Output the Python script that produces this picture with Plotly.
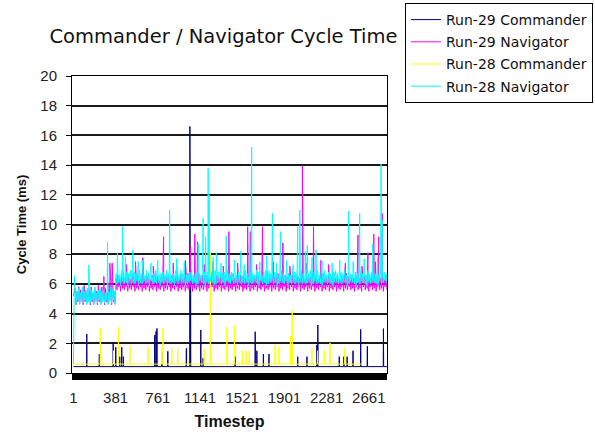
import numpy as np
import plotly.graph_objects as go

# ---------------- data ----------------
tick_vals = [1, 381, 761, 1141, 1521, 1901, 2281, 2661]
tick_text = ["1", "381", "761", "1141", "1521", "1901", "2281", "2661"]

# navigator samples: "pre" segment spans timesteps 1..377, "post" segment spans 385..2824
pre_span = (1, 377)
post_span = (385, 2824)

# Run-28 Navigator (cyan)
nav28_pre = [
    0.6, 6.55,
    5.6, 4.7, 5.5, 4.9, 5.7, 4.6, 5.4, 4.8, 5.8, 4.7,
    5.5, 4.9, 5.6, 4.6, 5.7, 4.8, 5.4, 4.7, 5.6, 4.9,
    5.5, 4.6, 5.8, 4.8, 5.4, 4.7, 5.6, 4.9, 5.7, 4.6,
    5.5, 4.8, 5.6, 4.7, 5.4, 4.9, 5.7, 4.6, 5.5, 4.8,
    5.8, 4.7, 5.6, 4.9, 5.5, 4.6,
]
nav28_post = [
    6.7, 6.0, 6.8, 6.1, 6.6, 5.9, 6.9, 6.2, 6.7, 6.0,
    6.6, 6.1, 6.8, 5.9, 6.7, 6.2, 6.9, 6.0, 6.6, 6.1,
    6.8, 6.0, 6.7, 6.2, 6.6, 5.9, 6.9, 6.1, 6.7, 6.0,
    6.8, 6.2, 6.6, 6.0, 6.9, 6.1, 6.7, 5.9, 6.8, 6.2,
    6.6, 6.0, 6.7, 6.1, 6.9, 6.0, 6.8, 6.2, 6.6, 5.9,
    6.7, 6.1, 6.8, 6.0, 6.6, 6.2, 6.9, 5.9, 6.7, 6.1,
    6.8, 6.0, 6.6, 6.1, 6.7, 5.9, 6.9, 6.2, 6.8, 6.0,
    6.6, 6.2, 6.9, 6.0, 6.7, 6.1, 6.8, 5.9, 6.6, 6.0,
    6.7, 6.1, 6.8, 6.2, 6.9, 6.0, 6.6, 6.1, 6.7, 5.9,
    6.8, 6.0, 6.7, 6.2, 6.6, 6.1, 6.9, 6.0, 6.8, 5.9,
    6.6, 6.1, 6.9, 6.0, 6.7, 6.2, 6.8, 6.1, 6.6, 5.9,
    6.9, 6.0, 6.7, 6.1, 6.8, 6.2, 6.6, 6.0, 6.7, 6.1,
    6.8, 5.9, 6.6, 6.2, 6.9, 6.1, 6.7, 6.0, 6.8, 6.2,
    6.7, 6.0, 6.9, 6.1, 6.6, 5.9, 6.8, 6.2, 6.7, 6.0,
    6.6, 6.1, 6.8, 6.0, 6.9, 6.2, 6.7, 5.9, 6.6, 6.1,
    6.8, 6.0, 6.7, 6.1, 6.6, 6.2, 6.9, 6.0, 6.8, 5.9,
    6.7, 6.2, 6.6, 6.0, 6.8, 6.1, 6.9, 5.9, 6.7, 6.0,
    6.9, 6.1, 6.7, 6.2, 6.6, 6.0, 6.8, 6.1, 6.7, 5.9,
    6.6, 6.0, 6.8, 6.2, 6.9, 6.1, 6.7, 6.0, 6.6, 6.2,
    6.8, 5.9, 6.7, 6.1, 6.6, 6.0, 6.9, 6.2, 6.8, 6.0,
    6.7, 6.1, 6.6, 5.9, 6.8, 6.2, 6.9, 6.0, 6.7, 6.1,
    6.6, 6.0, 6.8, 6.1, 6.7, 6.2, 6.9, 5.9, 6.6, 6.0,
    6.8, 6.2, 6.7, 6.0, 6.9, 6.1, 6.6, 6.0, 6.8, 5.9,
    6.7, 6.1, 6.9, 6.2, 6.6, 6.0, 6.8, 6.1, 6.7, 6.0,
    6.6, 5.9, 6.8, 6.1, 6.9, 6.2, 6.7, 6.0, 6.6, 6.1,
    6.8, 6.0, 6.7, 6.2, 6.9, 6.1, 6.6, 5.9, 6.8, 6.0,
    6.7, 6.2, 6.6, 6.1, 6.9, 6.0, 6.8, 5.9, 6.7, 6.1,
    6.6, 6.0, 6.9, 6.2, 6.7, 6.1, 6.8, 6.0, 6.6, 5.9,
    6.9, 6.1, 6.7, 6.0, 6.8, 6.2, 6.6, 6.1, 6.7, 6.0,
    6.8, 5.9, 6.6, 6.2, 6.9, 6.0, 6.7, 6.1, 6.8, 6.2,
    6.7, 6.0,
]

# Run-29 Navigator (magenta)
nav29_pre = [
    5.2, 5.5,
    5.7, 4.6, 5.5, 4.8, 5.8, 4.7, 5.6, 4.9, 5.4, 4.6,
    5.9, 4.8, 5.5, 4.7, 5.7, 4.9, 5.6, 4.6, 5.8, 4.8,
    5.4, 4.7, 5.7, 4.9, 5.5, 4.6, 5.9, 4.8, 5.6, 4.7,
    5.8, 4.9, 5.5, 4.6, 5.7, 4.8, 5.4, 4.7, 6.0, 4.9,
    5.6, 4.6, 5.8, 4.8, 5.5, 4.7,
]
nav29_post = [
    6.4, 5.6, 6.6, 5.8, 6.3, 5.5, 6.5, 5.7, 6.7, 5.6,
    6.4, 5.8, 6.5, 5.5, 6.6, 5.7, 6.3, 5.6, 6.7, 5.8,
    6.5, 5.5, 6.4, 5.7, 6.6, 5.6, 6.3, 5.8, 6.5, 5.5,
    6.7, 5.7, 6.4, 5.6, 6.6, 5.8, 6.5, 5.5, 6.3, 5.7,
    6.6, 5.6, 6.4, 5.8, 6.7, 5.5, 6.5, 5.7, 6.3, 5.6,
    6.5, 5.8, 6.6, 5.5, 6.4, 5.7, 6.7, 5.6, 6.5, 5.8,
    6.3, 5.5, 6.6, 5.7, 6.4, 5.6, 6.5, 5.8, 6.7, 5.5,
    6.4, 5.7, 6.6, 5.6, 6.3, 5.8, 6.5, 5.5, 6.6, 5.7,
    6.7, 5.6, 6.4, 5.8, 6.5, 5.5, 6.3, 5.7, 6.6, 5.6,
    6.5, 5.8, 6.7, 5.5, 6.4, 5.7, 6.6, 5.6, 6.3, 5.8,
    6.6, 5.5, 6.5, 5.7, 6.4, 5.6, 6.7, 5.8, 6.5, 5.5,
    6.3, 5.7, 6.6, 5.6, 6.4, 5.8, 6.5, 5.5, 6.7, 5.7,
    6.4, 5.6, 6.6, 5.8, 6.3, 5.5, 6.5, 5.7, 6.6, 5.6,
    6.7, 5.8, 6.4, 5.5, 6.5, 5.7, 6.3, 5.6, 6.6, 5.8,
    6.5, 5.5, 6.7, 5.7, 6.4, 5.6, 6.6, 5.8, 6.3, 5.5,
    6.6, 5.7, 6.5, 5.6, 6.4, 5.8, 6.7, 5.5, 6.5, 5.7,
    6.3, 5.6, 6.6, 5.8, 6.4, 5.5, 6.5, 5.7, 6.7, 5.6,
    6.4, 5.8, 6.6, 5.5, 6.3, 5.7, 6.5, 5.6, 6.6, 5.8,
    6.7, 5.5, 6.4, 5.7, 6.5, 5.6, 6.3, 5.8, 6.6, 5.5,
    6.5, 5.7, 6.7, 5.6, 6.4, 5.8, 6.6, 5.5, 6.3, 5.7,
    6.6, 5.6, 6.5, 5.8, 6.4, 5.5, 6.7, 5.7, 6.5, 5.6,
    6.3, 5.8, 6.6, 5.5, 6.4, 5.7, 6.5, 5.6, 6.7, 5.8,
    6.4, 5.5, 6.6, 5.7, 6.3, 5.6, 6.5, 5.8, 6.6, 5.5,
    6.7, 5.7, 6.4, 5.6, 6.5, 5.8, 6.3, 5.5, 6.6, 5.7,
    6.5, 5.6, 6.7, 5.8, 6.4, 5.5, 6.6, 5.7, 6.3, 5.6,
    6.6, 5.8, 6.5, 5.5, 6.4, 5.7, 6.7, 5.6, 6.5, 5.8,
    6.3, 5.6, 6.6, 5.7, 6.4, 5.5, 6.5, 5.8, 6.7, 5.6,
    6.4, 5.7, 6.6, 5.5, 6.3, 5.8, 6.5, 5.6, 6.6, 5.7,
    6.7, 5.5, 6.4, 5.8, 6.5, 5.6, 6.3, 5.7, 6.6, 5.5,
    6.5, 5.8, 6.7, 5.6, 6.4, 5.7, 6.6, 5.5, 6.3, 5.8,
    6.6, 5.6,
]

nav28_spike_t = [139, 308, 397, 442, 470, 537, 585, 620, 700, 760, 867, 930, 1000, 1125, 1169, 1192,
                 1214, 1223, 1260, 1288, 1330, 1377, 1450, 1510, 1540, 1588, 1606, 1680, 1740, 1793,
                 1830, 1867, 1920, 1980, 2021, 2039, 2089, 2107, 2150, 2185, 2240, 2330, 2400, 2478,
                 2520, 2579, 2620, 2697, 2740, 2772, 2781]
nav28_spike_v = [7.27, 8.84, 8.1, 9.85, 7.8, 8.28, 7.5, 7.6, 7.4, 7.6, 10.98, 7.7, 7.5, 8.7, 10.42, 9.18,
                 13.78, 11.99, 7.8, 8.1, 7.4, 9.25, 7.6, 8.2, 7.3, 8.7, 15.2, 7.5, 7.9, 10.75,
                 7.4, 9.52, 7.6, 7.3, 9.85, 10.98, 8.2, 8.6, 7.8, 8.3, 7.5, 7.4, 7.6, 10.9,
                 7.5, 10.75, 7.7, 8.7, 7.8, 14.07, 10.3]

nav29_spike_t = [275, 329, 350, 480, 560, 626, 720, 813, 900, 1010, 1056, 1094, 1119, 1180, 1260,
                 1350, 1401, 1480, 1570, 1593, 1650, 1704, 1800, 1887, 1950, 2063, 2100, 2163,
                 2230, 2300, 2450, 2564, 2600, 2653, 2706, 2720, 2751, 2781]
nav29_spike_v = [6.5, 7.39, 7.4, 7.3, 7.5, 7.76, 7.2, 9.18, 7.4, 7.6, 8.5, 9.36, 8.84, 7.3, 7.5,
                 7.2, 9.52, 7.4, 9.85, 9.52, 7.3, 9.85, 7.5, 8.77, 7.2, 13.94, 7.4, 9.85,
                 7.6, 7.3, 7.4, 9.29, 7.2, 8.1, 9.36, 7.5, 9.18, 10.75]

cmd29_base = 0.43
cmd29_end = 2824
cmd29_spike_t = [121, 234, 359, 382, 418, 436, 451, 733, 745, 753, 798, 851, 1018, 1050, 1053, 1056,
                 1148, 1169, 1457, 1638, 1653, 1712, 1762, 2021, 2104, 2193, 2202, 2395, 2437,
                 2466, 2519, 2588, 2648, 2793]
cmd29_spike_v = [2.63, 1.28, 2.04, 1.73, 1.1, 1.73, 1.1, 2.56, 2.8, 3.0, 1.37, 1.46, 1.66, 16.6, 8.5, 6.0,
                 2.9, 1.0, 1.1, 2.78, 1.5, 1.28, 1.28, 1.1, 1.1, 1.89, 3.23, 1.1, 1.1,
                 1.1, 1.5, 2.94, 1.8, 2.99]

cmd28_base = 0.6
cmd28_end = 2594
cmd28_spike_t = [243, 362, 406, 510, 673, 795, 807, 887, 941, 1030, 1178, 1234, 1383, 1451, 1525,
                 1555, 1584, 1816, 1851, 1955, 1971, 2149, 2199, 2261, 2312, 2445]
cmd28_spike_v = [3.0, 1.5, 3.08, 1.8, 1.73, 1.6, 3.0, 1.66, 1.6, 1.73, 1.6, 8.15, 3.08, 3.19, 1.5,
                 1.5, 1.5, 1.9, 1.73, 2.5, 4.2, 1.66, 1.5, 1.5, 2.03, 1.66]


# ---------------- helpers ----------------
def nav_series(pre, post, spike_t, spike_v):
    t = (list(np.linspace(pre_span[0], pre_span[1], len(pre)))
         + list(np.linspace(post_span[0], post_span[1], len(post)))
         + list(spike_t))
    v = list(pre) + list(post) + list(spike_v)
    order = np.argsort(t, kind="stable")
    return [float(t[i]) for i in order], [v[i] for i in order]


def cmd_series(base, end, spike_t, spike_v):
    pts = [(1, base), (end, base)]
    for t, v in zip(spike_t, spike_v):
        pts += [(t - 2, base), (t, v), (t + 2, base)]
    pts.sort(key=lambda p: p[0])
    return [p[0] for p in pts], [p[1] for p in pts]


x29c, y29c = cmd_series(cmd29_base, cmd29_end, cmd29_spike_t, cmd29_spike_v)
x29n, y29n = nav_series(nav29_pre, nav29_post, nav29_spike_t, nav29_spike_v)
x28c, y28c = cmd_series(cmd28_base, cmd28_end, cmd28_spike_t, cmd28_spike_v)
x28n, y28n = nav_series(nav28_pre, nav28_post, nav28_spike_t, nav28_spike_v)

series = [
    ("Run-29 Commander", x29c, y29c, "#000080"),
    ("Run-29 Navigator", x29n, y29n, "#FF00FF"),
    ("Run-28 Commander", x28c, y28c, "#FFFF00"),
    ("Run-28 Navigator", x28n, y28n, "#00FFFF"),
]

fig = go.Figure()
for i, (name, xs, ys, col) in enumerate(series):
    fig.add_trace(go.Scatter(x=xs, y=ys, mode="lines", name=name,
                             line=dict(color=col, width=1),
                             legendgroup=f"g{i}"))

L, R, T, B = 72, 208, 76, 62
W, H = 595, 435
pw, ph = W - L - R, H - T - B

fig.update_layout(
    width=W, height=H,
    margin=dict(l=L, r=R, t=T, b=B, pad=0, autoexpand=False),
    paper_bgcolor="white", plot_bgcolor="white",
    font=dict(family="Liberation Sans, Arial, sans-serif", size=15, color="#222"),
    title=dict(text="Commander / Navigator Cycle Time",
               font=dict(family="DejaVu Sans, Verdana, sans-serif", size=19.5, color="#111"),
               x=223.5 / W, xanchor="center", y=1 - 36 / H, yanchor="middle"),
    showlegend=True,
    legend=dict(x=(593 - L) / pw, xanchor="right", y=(H - B - 3) / ph, yanchor="top",
                bordercolor="#000", borderwidth=1, bgcolor="white",
                font=dict(family="DejaVu Sans, Verdana, sans-serif", size=14, color="#111"),
                traceorder="grouped", tracegroupgap=1, itemwidth=30),
    xaxis=dict(range=[-12, 2825], tickmode="array", tickvals=tick_vals, ticktext=tick_text,
               showgrid=False, zeroline=False, showline=True, linecolor="#000", linewidth=1,
               mirror=True, ticks="outside", ticklen=6, tickcolor="#000", tickwidth=1,
               minor=dict(dtick=4, tick0=0, ticks="outside", ticklen=6, tickcolor="#000",
                          tickwidth=1, showgrid=False),
               ticklabelstandoff=5,
               tickfont=dict(size=15, color="#222"),
               title=dict(text="<b>Timestep</b>", standoff=10,
                          font=dict(family="Liberation Sans, Arial, sans-serif", size=16, color="#111"))),
    yaxis=dict(range=[0, 20], dtick=2, tick0=0,
               showgrid=True, gridcolor="#1a1a1a", gridwidth=1.5, zeroline=False,
               showline=True, linecolor="#000", linewidth=1, mirror=True,
               ticks="outside", ticklen=5, tickcolor="#000", tickwidth=1,
               ticklabelstandoff=6,
               tickfont=dict(size=15, color="#222"),
               title=dict(text="<b>Cycle Time (ms)</b>", standoff=10,
                          font=dict(family="Liberation Sans, Arial, sans-serif", size=13, color="#111"))),
)

fig.write_html("out.html",
               config={"displayModeBar": False},
               post_script="document.body.style.margin='0px';document.body.style.padding='0px';")
